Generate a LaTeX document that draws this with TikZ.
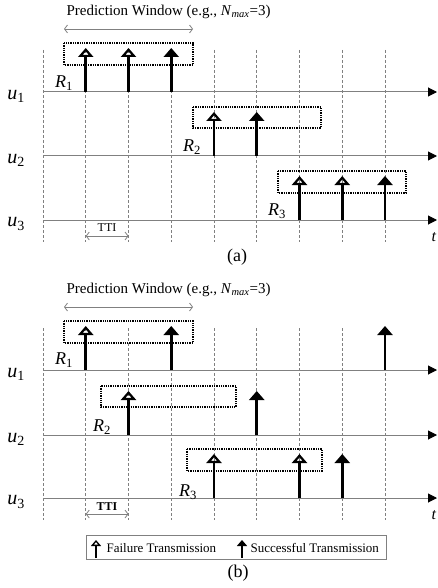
\documentclass[tikz,border=0pt]{standalone}
\usepackage{fontspec}
\setmainfont{Liberation Serif}
\usetikzlibrary{arrows.meta}

\newcommand{\fs}[1]{\fontsize{#1}{#1}\selectfont}

\tikzset{
  gridline/.style={densely dashed, gray, line width=0.6pt},
  axis/.style={gray, line width=1pt, -{Triangle[length=9pt,width=9pt,color=black]}},
  fail/.style={line width=2.6pt, -{Triangle[open,length=9pt,width=15pt,line width=2.2pt]}},
  succ/.style={line width=2.6pt, -{Triangle[length=9pt,width=15pt]}},
  window/.style={densely dotted, line width=1.3pt},
  span/.style={gray, line width=0.8pt, {Straight Barb[length=3pt,width=8pt]}-{Straight Barb[length=3pt,width=8pt]}},
  ulabel/.style={font=\fs{20}},
  rlabel/.style={font=\fs{18}},
}

\begin{document}
\begin{tikzpicture}[x=1pt,y=-1pt]
\useasboundingbox (0,0) rectangle (437,588);

% (a)
\foreach \x in {43,85.75,...,386} \draw[gridline] (\x,50) -- (\x,242);

\foreach \n/\y in {1/92,2/156,3/220} {
  \coordinate (a\n s) at (43,\y);
  \coordinate (a\n e) at (437,\y);
  \draw[axis] (a\n s) -- (a\n e);
  \node[ulabel] (ua\n) at (16,\y+4) {\textit{u}\textsubscript{\n}};
}
\node[font=\fs{16}] (ta) at (434,237) {\textit{t}};

\node[anchor=west, font=\fs{15}] (pwa) at (63,12) {Prediction Window (e.g., \textit{N}\textsubscript{\textit{max}}=3)};
\draw[span] (64,29) -- (193,29);

\draw[window] (64,43) rectangle (193,65);
\draw[window] (193,107) rectangle (321,128);
\draw[window] (278,171) rectangle (406,193);

\foreach \x in {85.75,128.5} \draw[fail] (\x,92) -- ++(0,-44);
\draw[succ] (171.25,92) -- ++(0,-44);
\draw[fail] (214,156) -- ++(0,-44);
\draw[succ] (256.75,156) -- ++(0,-44);
\foreach \x in {299.5,342.25} \draw[fail] (\x,220) -- ++(0,-44);
\draw[succ] (385,220) -- ++(0,-44);

\node[rlabel] (ra1) at (64,83) {\textit{R}\textsubscript{1}};
\node[rlabel] (ra2) at (192,147) {\textit{R}\textsubscript{2}};
\node[rlabel] (ra3) at (277,211) {\textit{R}\textsubscript{3}};

\draw[span] (85.75,236) -- (128.5,236);
\node[font=\fs{12}] (ttia) at (107,228) {TTI};

\node[font=\fs{18}] (capa) at (237,257) {(a)};

% (b)
\begin{scope}[shift={(0,278)}]
\foreach \x in {43,85.75,...,386} \draw[gridline] (\x,50) -- (\x,242);

\foreach \n/\y in {1/92,2/157,3/220} {
  \coordinate (b\n s) at (43,\y);
  \coordinate (b\n e) at (437,\y);
  \draw[axis] (b\n s) -- (b\n e);
  \node[ulabel] (ub\n) at (16,\y+4) {\textit{u}\textsubscript{\n}};
}
\node[font=\fs{16}] (tb) at (434,237) {\textit{t}};

\node[anchor=west, font=\fs{15}] (pwb) at (63,12) {Prediction Window (e.g., \textit{N}\textsubscript{\textit{max}}=3)};
\draw[span] (64,29) -- (193,29);

\draw[window] (64,43) rectangle (193,65);
\draw[window] (101,108) rectangle (236,129);
\draw[window] (187,171) rectangle (322,193);

\draw[fail] (85.75,92) -- ++(0,-44);
\draw[succ] (171.25,92) -- ++(0,-44);
\draw[succ] (385,92) -- ++(0,-44);
\draw[fail] (128.5,157) -- ++(0,-44);
\draw[succ] (256.75,157) -- ++(0,-44);
\foreach \x in {214,299.5} \draw[fail] (\x,220) -- ++(0,-44);
\draw[succ] (342.25,220) -- ++(0,-44);

\node[rlabel] (rb1) at (64,82) {\textit{R}\textsubscript{1}};
\node[rlabel] (rb2) at (102,149) {\textit{R}\textsubscript{2}};
\node[rlabel] (rb3) at (188,214) {\textit{R}\textsubscript{3}};

\draw[span] (85.75,236) -- (128.5,236);
\node[font=\fs{12}] (ttib) at (107,229) {\textbf{TTI}};
\end{scope}

% legend
\node[draw=gray, line width=0.8pt, minimum width=300pt, minimum height=24pt, inner sep=0pt] (legend) at (236,547) {};
\draw[line width=1.4pt, -{Triangle[open,length=6pt,width=10pt,line width=1.3pt]}] (96,558) -- (96,540);
\node[anchor=west, font=\fs{13}] (lfail) at (103,548) {Failure Transmission};
\draw[line width=1.4pt, -{Triangle[length=6pt,width=10pt]}] (242,558) -- (242,540);
\node[anchor=west, font=\fs{13}] (lsucc) at (247,548) {Successful Transmission};

\node[font=\fs{18}] (capb) at (238,573) {(b)};
\end{tikzpicture}
\end{document}
